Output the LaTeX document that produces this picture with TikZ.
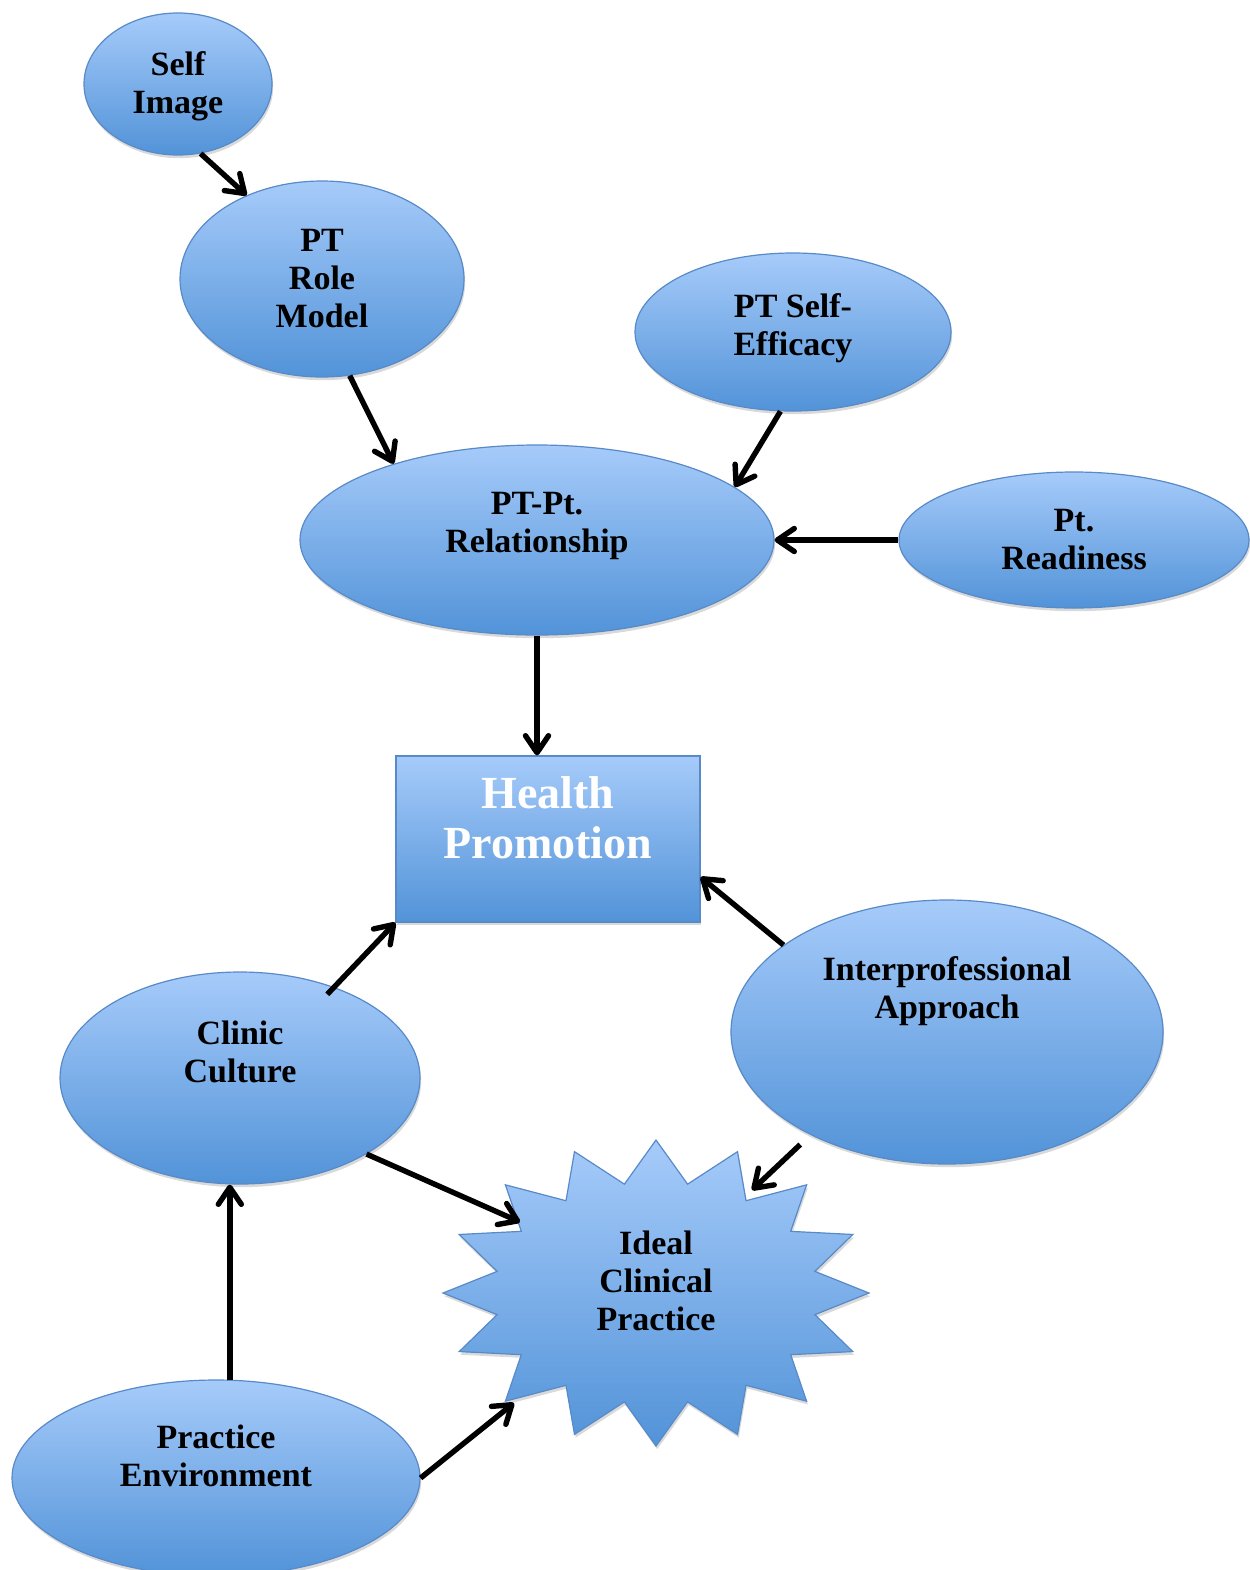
\documentclass[tikz,border=0pt]{standalone}
\usepackage{fontspec}
\setmainfont{Liberation Serif}
\usetikzlibrary{arrows.meta, shadows, shapes.geometric}

\definecolor{bubbletop}{RGB}{166,203,250}
\definecolor{bubblebot}{RGB}{82,147,216}
\definecolor{bubbleline}{RGB}{88,138,200}

\tikzset{
  bubble/.style={ellipse, draw=bubbleline, line width=0.6pt,
    top color=bubbletop, bottom color=bubblebot,
    drop shadow={shadow xshift=0.6pt, shadow yshift=-1.6pt, opacity=0.3},
    align=center, inner sep=1pt, font=\bfseries\fontsize{17}{19}\selectfont},
  arr/.style={line width=2.7pt, -{Straight Barb[length=8.5pt,width=11.5pt,round]}},
}

\begin{document}
\begin{tikzpicture}[x=0.5pt, y=-0.5pt]
        \useasboundingbox (0, 0) rectangle (1249, 1570);

        \node[bubble, minimum width=94pt, minimum height=71pt, text depth=1pt] (si) at (178, 84) {Self\\Image};
        \node[bubble, minimum width=142pt, minimum height=98pt] (prm) at (322, 279) {PT\\Role\\Model};
        \node[bubble, minimum width=158pt, minimum height=79pt, text depth=7pt] (pse) at (793, 332) {PT Self-\\Efficacy};
        \node[bubble, minimum width=237pt, minimum height=95pt, text depth=18pt] (rel) at (537, 540) {PT-Pt.\\Relationship};
        \node[bubble, minimum width=175pt, minimum height=68pt] (pr) at (1074, 540) {Pt.\\Readiness};

        \node[rectangle, draw=bubbleline, line width=0.6pt, top color=bubbletop, bottom color=bubblebot,
              drop shadow={shadow xshift=0.6pt, shadow yshift=-1.6pt, opacity=0.3},
              minimum width=152pt, minimum height=83pt, align=center, text=white, text depth=21pt,
              font=\bfseries\fontsize{23}{25}\selectfont] (hp) at (548, 839) {Health\\Promotion};

        \node[bubble, minimum width=216pt, minimum height=132pt, text depth=44pt] (ipa) at (947, 1032) {Interprofessional\\Approach};
        \node[bubble, minimum width=180pt, minimum height=106pt, text depth=26pt] (cc) at (240, 1078) {Clinic\\Culture};
        \node[bubble, minimum width=204pt, minimum height=98pt, text depth=22pt] (pe) at (216, 1478) {Practice\\Environment};

        % the burst
        \path[draw=bubbleline, line width=0.6pt, top color=bubbletop, bottom color=bubblebot,
              drop shadow={shadow xshift=0.6pt, shadow yshift=-1.6pt, opacity=0.3}]
            plot[samples at={0,...,31}] ({656+ifthenelse(mod(\x,2)==0,213,162)*cos(90+\x*11.25)},
                                         {1293-ifthenelse(mod(\x,2)==0,153,111)*sin(90+\x*11.25)}) -- cycle;
        \node[align=center, font=\bfseries\fontsize{17}{19}\selectfont] (icp) at (656, 1281) {Ideal\\Clinical\\Practice};
        \coordinate (icp-cc) at (520, 1222);
        \coordinate (icp-pe) at (514, 1403);
        \coordinate (icp-ipa) at (752, 1190);

        \draw[arr] (si.-72) -- (prm.132.5);
        \draw[arr] (prm.-74.7) -- (rel.152.5);
        \draw[arr] (pse.-99.7) -- (rel.15.1);
        \draw[arr] (pr.west) -- (rel.east);
        \draw[arr] (rel.south) -- (rel.south |- hp.north);
        \draw[arr, shorten <=-5pt] (cc.44) -- (hp.south west);
        \draw[arr] (ipa.152.6) -- (hp.-14.3);
        \draw[arr, shorten <=7pt] (ipa.-143) -- (icp-ipa);
        \draw[arr] (cc.-31.2) -- (icp-cc);
        \draw[arr] (pe.82) -- (pe.82 |- cc.south);
        \draw[arr] (pe.east) -- (icp-pe);
    \end{tikzpicture}
\end{document}
